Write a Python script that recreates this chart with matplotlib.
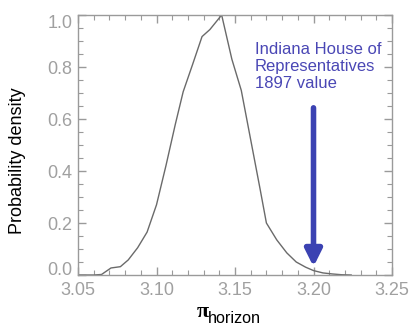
import matplotlib
matplotlib.use("Agg")
import matplotlib.pyplot as plt
from matplotlib.ticker import MultipleLocator

plt.rcParams['font.family'] = ['Liberation Sans', 'DejaVu Sans']

pi_values = [3.050, 3.060, 3.065, 3.071, 3.077, 3.082, 3.088, 3.094, 3.100, 3.106,
             3.112, 3.117, 3.123, 3.129, 3.134, 3.1415, 3.148, 3.154, 3.160, 3.166,
             3.170, 3.1766, 3.183, 3.189, 3.195, 3.200, 3.206, 3.212, 3.218, 3.224]
density = [0.0, 0.0, 0.002, 0.027, 0.032, 0.058, 0.105, 0.165, 0.27, 0.42,
           0.58, 0.705, 0.81, 0.917, 0.944, 1.0, 0.83, 0.71, 0.52, 0.33,
           0.20, 0.135, 0.085, 0.05, 0.03, 0.017, 0.008, 0.004, 0.001, 0.0]

x_ticks = [3.05, 3.10, 3.15, 3.20, 3.25]
x_ticklabels = ["3.05", "3.10", "3.15", "3.20", "3.25"]
y_ticks = [0.0, 0.2, 0.4, 0.6, 0.8, 1.0]
y_ticklabels = ["0.0", "0.2", "0.4", "0.6", "0.8", "1.0"]

indiana_value = 3.20
arrow_top = 0.643
arrow_tip = 0.032
annotation = "Indiana House of\nRepresentatives\n1897 value"

fig = plt.figure(figsize=(4.15, 3.36), dpi=100)
ax = fig.add_axes([78/415, 61/336, 314/415, 260/336])

ax.plot(pi_values, density, color='#6a6a6a', lw=1.0)

ax.set_xlim(3.05, 3.25)
ax.set_ylim(0.0, 1.0)
ax.set_xticks(x_ticks)
ax.set_xticklabels(x_ticklabels)
ax.set_yticks(y_ticks)
ax.set_yticklabels(y_ticklabels)
ax.xaxis.set_minor_locator(MultipleLocator(0.01))
ax.yaxis.set_minor_locator(MultipleLocator(0.05))

for s in ax.spines.values():
    s.set_color('#9a9a9a')
    s.set_linewidth(1.0)
ax.tick_params(which='both', direction='in', top=True, right=True, color='#9a9a9a',
               labelcolor='#a0a0a0', labelsize=13)
ax.tick_params(which='major', length=6, width=1.0)
ax.tick_params(which='minor', length=3.5, width=0.8)
ax.tick_params(axis='x', pad=5)
ax.tick_params(axis='y', pad=4)

ylabels = ax.get_yticklabels()
ylabels[0].set_verticalalignment('baseline')
ylabels[-1].set_verticalalignment('top')

ax.annotate('', xy=(indiana_value, arrow_tip), xytext=(indiana_value, arrow_top),
            arrowprops=dict(arrowstyle='-|>,head_width=0.5,head_length=1.0',
                            color='#3b42b2', lw=4.0, shrinkA=0, shrinkB=0))
ax.text(3.1627, 0.898, annotation, color='#4a47b5', fontsize=12, va='top', ha='left',
        linespacing=1.2)

fig.text(18/415, (336-161)/336, 'Probability density', rotation=90, ha='center',
         va='center', fontsize=13, color='black')
fig.text(202.5/415, 19/336, 'π', ha='center', va='baseline',
         fontsize=16, color='black', family=['Liberation Serif', 'DejaVu Serif'],
         fontweight='bold')
fig.text(208/415, 13/336, 'horizon', ha='left', va='baseline',
         fontsize=11.7, color='black')

fig.savefig('out.png', dpi=100)
